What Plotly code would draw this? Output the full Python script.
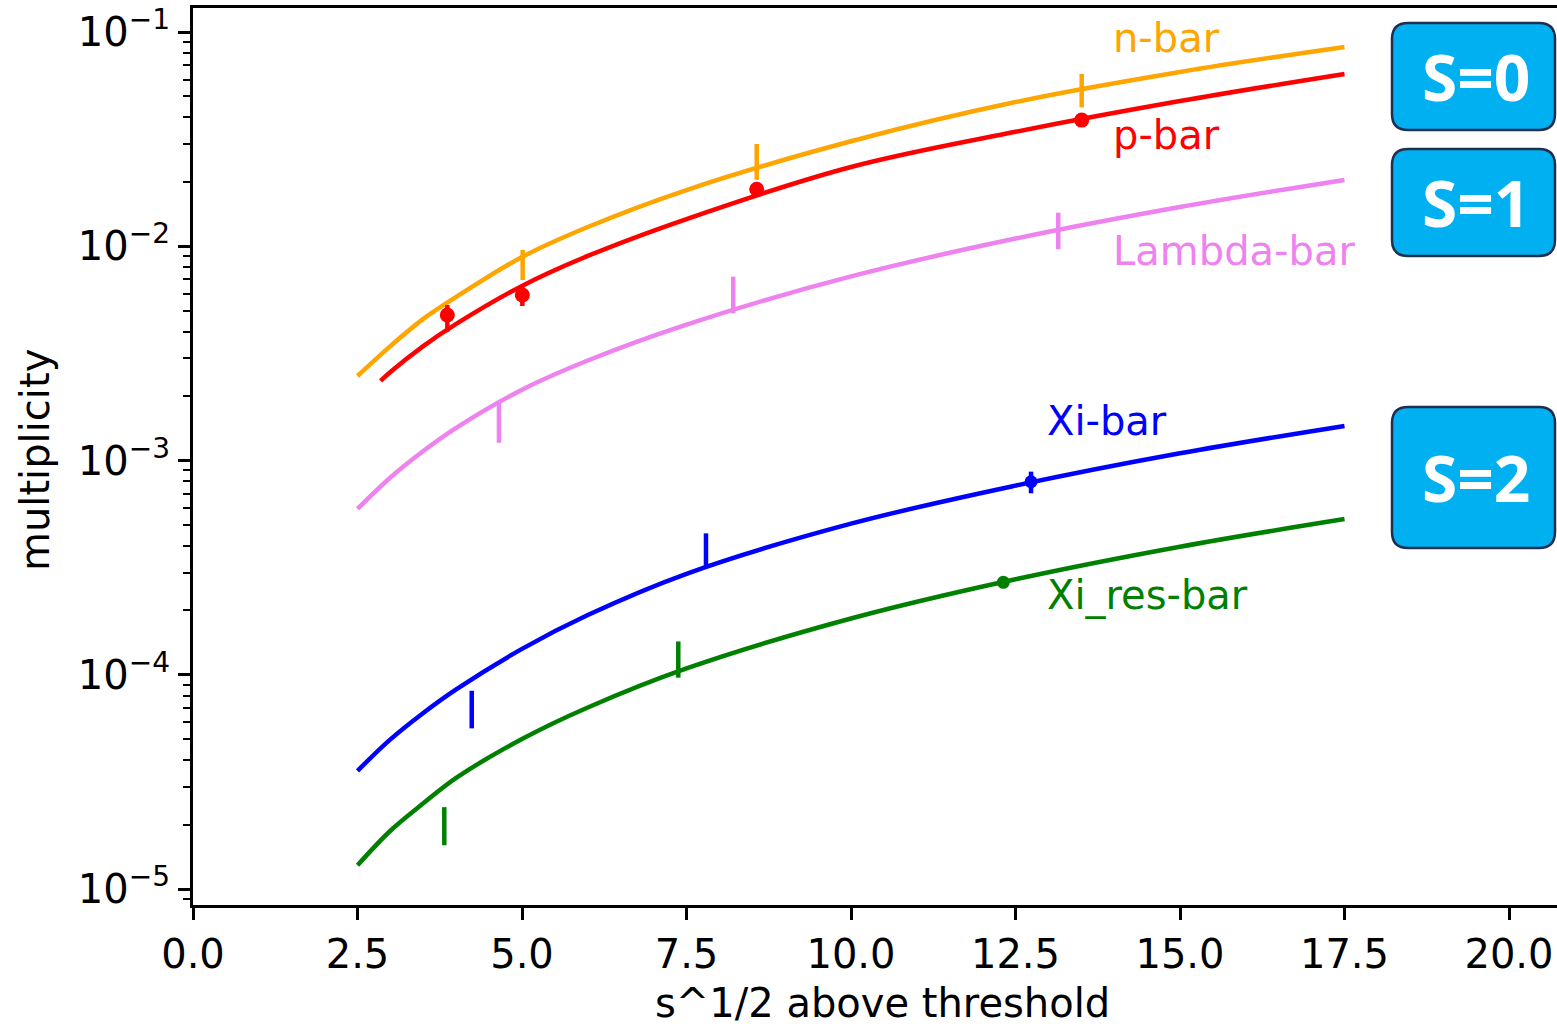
import plotly.graph_objects as go

# ---------------- data ----------------
x_grid = [2.5, 3.0, 3.5, 4.0, 5.0, 6.0, 7.5, 10.0, 12.5, 15.0, 17.5]
x_grid_p = [2.85, 3.0, 3.5, 4.0, 5.0, 6.0, 7.5, 10.0, 12.5, 15.0, 17.5]

nbar_curve = [2.48e-3, 3.42e-3, 4.58e-3, 5.80e-3, 8.91e-3, 1.23e-2, 1.83e-2, 3.09e-2, 4.71e-2, 6.51e-2, 8.51e-2]
pbar_curve = [2.35e-3, 2.59e-3, 3.42e-3, 4.34e-3, 6.53e-3, 9.01e-3, 1.34e-2, 2.344e-2, 3.42e-2, 4.76e-2, 6.37e-2]
lambda_curve = [5.94e-4, 8.33e-4, 1.107e-3, 1.42e-3, 2.14e-3, 2.93e-3, 4.31e-3, 7.23e-3, 1.086e-2, 1.525e-2, 2.04e-2]
xi_curve = [3.56e-5, 4.99e-5, 6.63e-5, 8.54e-5, 1.32e-4, 1.90e-4, 2.96e-4, 5.07e-4, 7.63e-4, 1.08e-3, 1.45e-3]
xires_curve = [1.29e-5, 1.87e-5, 2.51e-5, 3.30e-5, 5.01e-5, 7.03e-5, 1.07e-4, 1.83e-4, 2.79e-4, 3.96e-4, 5.33e-4]

# measured points with dots (x, value, upper, lower)
pbar_pts_x = [3.865, 5.005, 8.567, 13.506]
pbar_pts_y = [4.78e-3, 5.92e-3, 1.844e-2, 3.88e-2]
pbar_pts_hi = [5.32e-3, 6.59e-3, 1.88e-2, 3.93e-2]
pbar_pts_lo = [3.99e-3, 5.26e-3, 1.81e-2, 3.83e-2]

xi_pts_x = [12.736]
xi_pts_y = [7.96e-4]
xi_pts_hi = [8.87e-4]
xi_pts_lo = [7.03e-4]

xires_pts_x = [12.315]
xires_pts_y = [2.70e-4]
xires_pts_hi = [2.83e-4]
xires_pts_lo = [2.60e-4]

# range bars without dots (x, low, high)
nbar_bar_x = [5.01, 8.567, 13.506]
nbar_bar_lo = [6.96e-3, 2.04e-2, 4.45e-2]
nbar_bar_hi = [9.61e-3, 3.00e-2, 6.37e-2]

lambda_bar_x = [4.65, 8.21, 13.15]
lambda_bar_lo = [1.21e-3, 4.86e-3, 9.68e-3]
lambda_bar_hi = [1.85e-3, 7.21e-3, 1.434e-2]

xi_bar_x = [4.236, 7.796]
xi_bar_lo = [5.62e-5, 3.19e-4]
xi_bar_hi = [8.42e-5, 4.57e-4]

xires_bar_x = [3.819, 7.375]
xires_bar_lo = [1.60e-5, 9.69e-5]
xires_bar_hi = [2.41e-5, 1.43e-4]

x_tick_vals = [0.0, 2.5, 5.0, 7.5, 10.0, 12.5, 15.0, 17.5, 20.0]
x_tick_text = ["0.0", "2.5", "5.0", "7.5", "10.0", "12.5", "15.0", "17.5", "20.0"]
y_tick_vals = [1e-5, 1e-4, 1e-3, 1e-2, 1e-1]
y_tick_text = ["10<sup>\u22125</sup>", "10<sup>\u22124</sup>", "10<sup>\u22123</sup>",
               "10<sup>\u22122</sup>", "10<sup>\u22121</sup>"]

series_labels = ["n-bar", "p-bar", "Lambda-bar", "Xi-bar", "Xi_res-bar"]
box_labels = ["S=0", "S=1", "S=2"]

# ---------------- figure ----------------
W, H = 1557, 1026
ML, MR, MT, MB = 193, 0, 8, 121
PW, PH = W - ML - MR, H - MT - MB

FONT = "DejaVu Sans"
LW = 4.5
C_N, C_P, C_L, C_X, C_XR = "orange", "red", "violet", "blue", "green"

fig = go.Figure()


def add_curve(x, y, color):
    fig.add_trace(go.Scatter(x=x, y=y, mode="lines",
                             line=dict(color=color, width=LW, shape="spline", smoothing=1.0),
                             showlegend=False, hoverinfo="skip"))


def add_bars(x, lo, hi, color):
    fig.add_trace(go.Scatter(
        x=x, y=lo, mode="markers", marker=dict(size=1, color=color, opacity=0),
        error_y=dict(type="data", symmetric=False, array=[h - l for h, l in zip(hi, lo)],
                     arrayminus=[0] * len(lo), color=color, thickness=LW, width=0),
        showlegend=False, hoverinfo="skip"))


def add_points(x, y, hi, lo, color, size):
    fig.add_trace(go.Scatter(
        x=x, y=y, mode="markers", marker=dict(size=size, color=color),
        error_y=dict(type="data", symmetric=False, array=[h - v for h, v in zip(hi, y)],
                     arrayminus=[v - l for v, l in zip(y, lo)], color=color, thickness=LW, width=0),
        showlegend=False, hoverinfo="skip"))


add_curve(x_grid, nbar_curve, C_N)
add_curve(x_grid_p, pbar_curve, C_P)
add_curve(x_grid, lambda_curve, C_L)
add_curve(x_grid, xi_curve, C_X)
add_curve(x_grid, xires_curve, C_XR)

add_bars(nbar_bar_x, nbar_bar_lo, nbar_bar_hi, C_N)
add_bars(lambda_bar_x, lambda_bar_lo, lambda_bar_hi, C_L)
add_bars(xi_bar_x, xi_bar_lo, xi_bar_hi, C_X)
add_bars(xires_bar_x, xires_bar_lo, xires_bar_hi, C_XR)

add_points(pbar_pts_x, pbar_pts_y, pbar_pts_hi, pbar_pts_lo, C_P, 15)
add_points(xi_pts_x, xi_pts_y, xi_pts_hi, xi_pts_lo, C_X, 13)
add_points(xires_pts_x, xires_pts_y, xires_pts_hi, xires_pts_lo, C_XR, 13)

# series labels (annotation y on log axis is given in log10 units)
label_specs = [
    (series_labels[0], 13.95, -1.028, C_N),
    (series_labels[1], 13.95, -1.481, C_P),
    (series_labels[2], 13.95, -2.023, C_L),
    (series_labels[3], 12.95, -2.816, C_X),
    (series_labels[4], 12.95, -3.631, C_XR),
]
for txt, lx, ly, col in label_specs:
    fig.add_annotation(x=lx, y=ly, xref="x", yref="y", text=txt, showarrow=False,
                       xanchor="left", yanchor="middle", font=dict(family=FONT, size=40, color=col))


def px2paper(px, py):
    return (px - ML) / PW, (H - MB - py) / PH


def rounded_rect(x0, y0, x1, y1, r):
    rx, ry = r / PW, r / PH
    X0, Y1 = px2paper(x0, y0)
    X1, Y0 = px2paper(x1, y1)
    return (f"M {X0+rx},{Y1} L {X1-rx},{Y1} Q {X1},{Y1} {X1},{Y1-ry} "
            f"L {X1},{Y0+ry} Q {X1},{Y0} {X1-rx},{Y0} "
            f"L {X0+rx},{Y0} Q {X0},{Y0} {X0},{Y0+ry} "
            f"L {X0},{Y1-ry} Q {X0},{Y1} {X0+rx},{Y1} Z")


boxes = [(1392, 23, 1555, 130), (1392, 149, 1555, 256), (1392, 407, 1555, 548)]
for (bx0, by0, bx1, by1), lab in zip(boxes, box_labels):
    fig.add_shape(type="path", path=rounded_rect(bx0, by0, bx1, by1, 16), xref="paper", yref="paper",
                  fillcolor="#00B0F0", line=dict(color="#1F2F4F", width=2.5), layer="above")
    cx, cy = px2paper((bx0 + bx1) / 2 + 2, (by0 + by1) / 2)
    fig.add_annotation(x=cx, y=cy, xref="paper", yref="paper", text=f"<b>{lab}</b>", showarrow=False,
                       xanchor="center", yanchor="middle",
                       font=dict(family="Open Sans", size=64, color="white"))

# axis titles
tx, ty = px2paper(882, 1003)
fig.add_annotation(x=tx, y=ty, xref="paper", yref="paper", text="s^1/2 above threshold", showarrow=False,
                   xanchor="center", yanchor="middle", font=dict(family=FONT, size=40, color="black"))
tx, ty = px2paper(35, 460)
fig.add_annotation(x=tx, y=ty, xref="paper", yref="paper", text="multiplicity", showarrow=False,
                   textangle=-90, xanchor="center", yanchor="middle",
                   font=dict(family=FONT, size=40, color="black"))

minor_vals = [m * 10.0 ** e for e in range(-6, 0) for m in range(2, 10)]

fig.update_layout(
    width=W, height=H, margin=dict(l=ML, r=MR, t=MT, b=MB, pad=0),
    paper_bgcolor="white", plot_bgcolor="white", showlegend=False,
    xaxis=dict(range=[0, (W - ML) / 65.8], tickvals=x_tick_vals, ticktext=x_tick_text,
               showgrid=False, zeroline=False, showline=True, linecolor="black", linewidth=3,
               mirror=True, ticks="outside", ticklen=12, tickwidth=2.5, tickcolor="black",
               tickfont=dict(family=FONT, size=40, color="black")),
    yaxis=dict(type="log", range=[-5.0747, -0.888], tickvals=y_tick_vals, ticktext=y_tick_text,
               showgrid=False, zeroline=False, showline=True, linecolor="black", linewidth=3,
               mirror=False, ticks="outside", ticklen=12, tickwidth=2.5, tickcolor="black",
               tickfont=dict(family=FONT, size=40, color="black"),
               minor=dict(tickvals=minor_vals, ticks="outside", ticklen=7, tickwidth=2,
                          tickcolor="black", showgrid=False)),
)

fig.write_html("out.html")
